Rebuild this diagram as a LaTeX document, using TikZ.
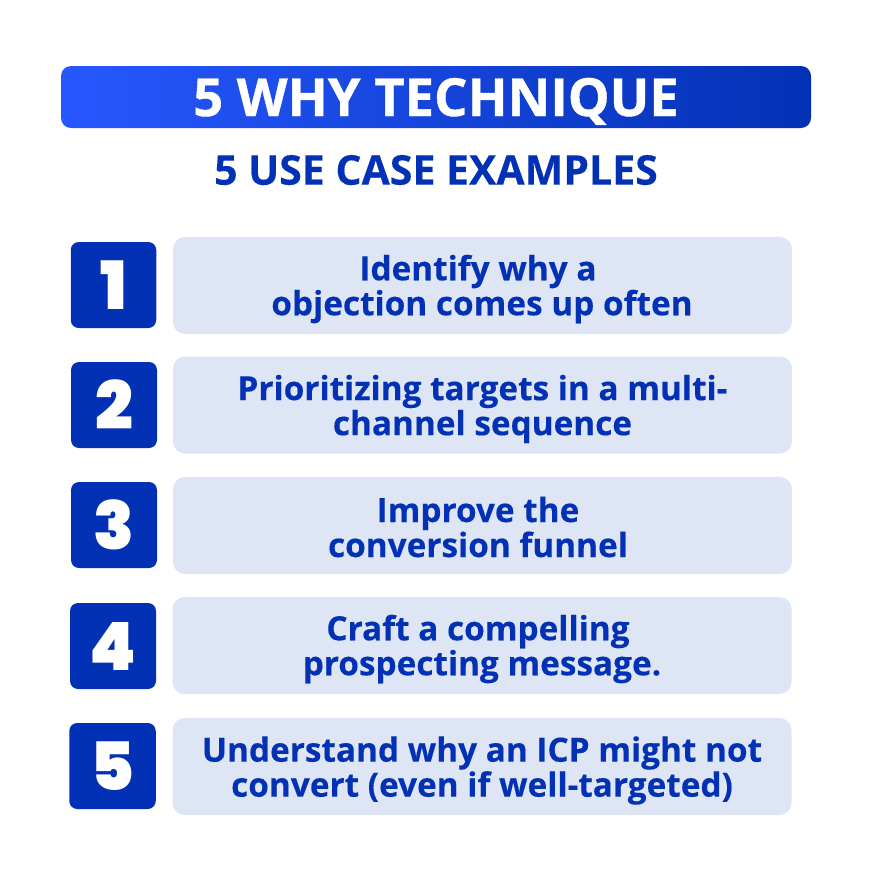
\documentclass[tikz,border=0pt]{standalone}
\usepackage{fontspec}
\setmainfont{Open Sans}
\newfontfamily\numfont{Poppins}[UprightFont=* Black]
\newfontfamily\titlefont{Open Sans}[UprightFont=* Bold,FakeBold=0.8]
\newfontfamily\labelfont{Open Sans}[UprightFont=* Bold,FakeBold=0.25]
\definecolor{darkblue}{HTML}{0331B5}
\definecolor{brightblue}{HTML}{2758FF}
\definecolor{paleblue}{HTML}{DEE5F4}
\tikzset{
  numbox/.style={fill=darkblue,rounded corners=8*0.75pt,inner sep=0pt,text=white,font=\numfont\fontsize{50}{50}\selectfont},
  textbox/.style={fill=paleblue,rounded corners=12*0.75pt,inner sep=0pt,minimum width=619*0.75pt,minimum height=97*0.75pt},
  label/.style={inner sep=0pt,align=center,text=darkblue,font=\labelfont\fontsize{25}{26.25}\selectfont}
}
\begin{document}
\begin{tikzpicture}[x=0.75pt,y=-0.75pt]
      \useasboundingbox (0,0) rectangle (872,872);
      \node[rounded corners=10*0.75pt,left color=brightblue,right color=darkblue,minimum width=750*0.75pt,minimum height=62*0.75pt,inner sep=0pt] (banner) at (436,97) {};
      \node[text=white,inner sep=0pt,font=\titlefont\fontsize{39.4}{40}\selectfont] (title) at (436,97) [text height=28.5pt,text depth=0pt] {5 WHY TECHNIQUE};
      \node[text=darkblue,inner sep=0pt,font=\labelfont\fontsize{30.75}{31}\selectfont,text height=22pt,text depth=0pt] (subtitle) at (436,170) {5 USE CASE EXAMPLES};
      \node[textbox] (box1) at (482.5,285.5) {};
      \node[textbox] (box2) at (482.5,405) {};
      \node[textbox] (box3) at (482.5,525.5) {};
      \node[textbox] (box4) at (482,645.5) {};
      \node[textbox] (box5) at (482,766.5) {};
      \node[numbox,minimum width=85.5*0.75pt,minimum height=86*0.75pt] (num1) at (113.5,285) {1};
      \node[numbox,minimum width=86*0.75pt,minimum height=86*0.75pt] (num2) at (114,405) {2};
      \node[numbox,minimum width=86*0.75pt,minimum height=86*0.75pt] (num3) at (114,525) {3};
      \node[numbox,minimum width=86*0.75pt,minimum height=86*0.75pt] (num4) at (113,646) {4};
      \node[numbox,minimum width=86.5*0.75pt,minimum height=86*0.75pt] (num5) at (112.5,766) {5};
      \node[label] (text1) at (482,289) {Identify why a\hspace*{6pt}\\objection comes up often};
      \node[label] (text2) at (482.5,409) {Prioritizing targets in a multi-\\channel sequence};
      \node[label] (text3) at (478,527) {Improve the\\conversion funnel};
      \node[label] (text4) at (482,649) {Craft a compelling\hspace*{6pt}\\prospecting message.};
      \node[label] (text5) at (482,770.5) {Understand why an ICP might not\\convert (even if well-targeted)};
    \end{tikzpicture}
\end{document}
